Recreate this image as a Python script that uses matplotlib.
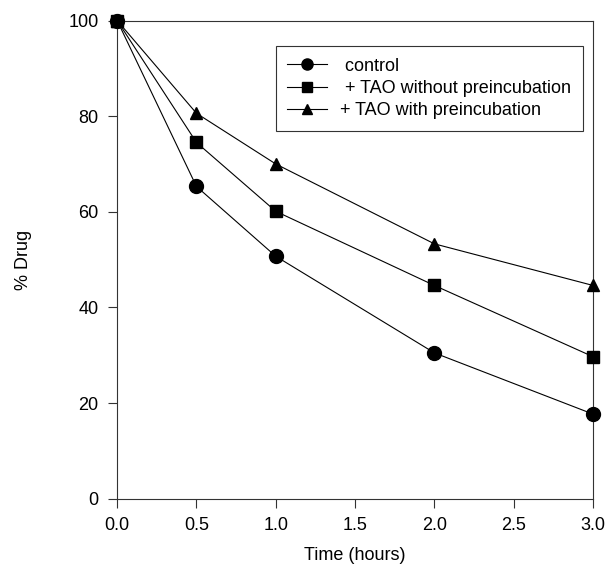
import matplotlib
matplotlib.use("Agg")
from matplotlib import pyplot as plt

plt.rcParams["font.family"] = ["Liberation Sans", "DejaVu Sans"]

# time points (hours)
time_h = [0.0, 0.5, 1.0, 2.0, 3.0]

# % drug remaining
control = [100, 65.3, 50.7, 30.5, 17.7]
tao_no_pre = [100, 74.5, 60.1, 44.6, 29.7]
tao_pre = [100, 80.6, 70.0, 53.3, 44.6]

labels = [" control", " + TAO without preincubation", "+ TAO with preincubation"]

fig = plt.figure(figsize=(6.07, 5.70), dpi=100)
ax = fig.add_axes([0.193, 0.125, 0.784, 0.839])

ax.plot(time_h, control, "k-o", lw=0.8, ms=10, clip_on=False, zorder=3, label=labels[0])
ax.plot(time_h, tao_no_pre, "k-s", lw=0.8, ms=8.2, clip_on=False, zorder=3, label=labels[1])
ax.plot(time_h, tao_pre, "k-^", lw=0.8, ms=9, clip_on=False, zorder=3, label=labels[2])

ax.set_xlim(0, 3)
ax.set_ylim(0, 100)
ax.set_xticks([0.0, 0.5, 1.0, 1.5, 2.0, 2.5, 3.0])
ax.set_xticklabels(["0.0", "0.5", "1.0", "1.5", "2.0", "2.5", "3.0"])
ax.set_yticks([0, 20, 40, 60, 80, 100])

for side in ["left", "bottom", "top", "right"]:
    ax.spines[side].set_linewidth(0.8)
    ax.spines[side].set_color("#333333")

ax.tick_params(direction="out", length=6.5, width=0.8, color="#333333",
               labelsize=13)
ax.tick_params(axis="x", pad=7)
ax.tick_params(axis="y", pad=7)

ax.set_xlabel("Time (hours)", fontsize=13, labelpad=9)
ax.set_ylabel("% Drug", fontsize=13, labelpad=26)

leg = ax.legend(loc="upper right", bbox_to_anchor=(0.978, 0.947), fontsize=13,
                fancybox=False, framealpha=1, edgecolor="#333333",
                handlelength=2.2, handletextpad=0.7, borderpad=0.65,
                labelspacing=0.3, borderaxespad=0, markerscale=0.8)
leg.get_frame().set_linewidth(0.8)

fig.savefig("out.png", dpi=100)
